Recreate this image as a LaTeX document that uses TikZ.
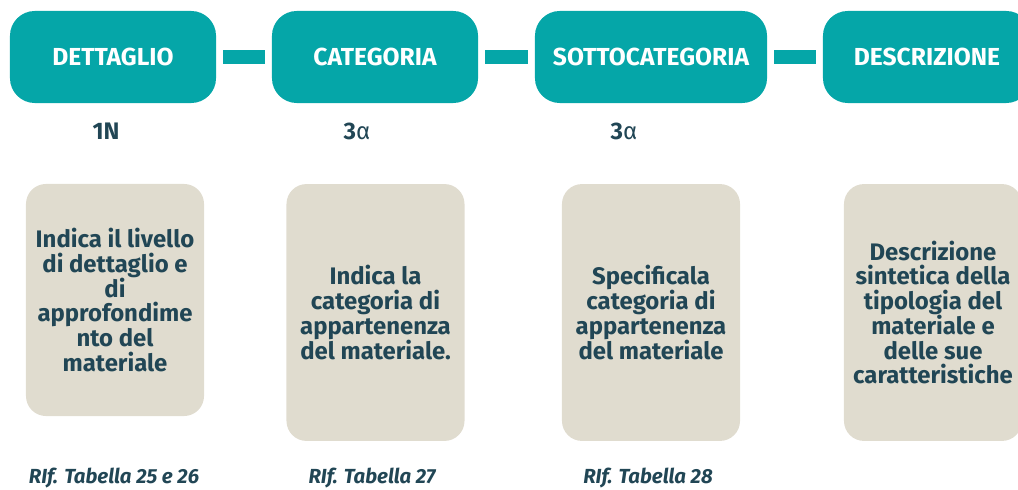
\documentclass[tikz,border=0pt]{standalone}
\usepackage{fontspec}
\setmainfont{Fira Sans}
\usetikzlibrary{positioning}
\definecolor{headteal}{RGB}{5,166,168}
\definecolor{cardbeige}{RGB}{224,220,207}
\definecolor{inkblue}{RGB}{33,70,85}

\begin{document}
\begin{tikzpicture}[x=0.025cm,y=-0.025cm,
    head/.style={fill=headteal,rounded corners=0.62cm,minimum height=2.3cm,
      text=white,font=\bfseries\fontsize{17.5}{20}\selectfont},
    card/.style={fill=cardbeige,rounded corners=0.5cm,minimum width=4.45cm,
      minimum height=6.42cm,inner sep=1pt,align=center,text=inkblue,
      font=\bfseries\fontsize{17}{17.6}\selectfont},
    bar/.style={draw=headteal,line width=0.33cm,shorten <=0.175cm,shorten >=0.175cm},
    code/.style={text=inkblue,font=\fontsize{17}{20}\selectfont},
    ref/.style={text=inkblue,font=\bfseries\itshape\fontsize{14.5}{17}\selectfont}]
  \clip (0,0) rectangle (1018,490);

  % testata
  \node[head,minimum width=5.15cm] (dett) at (113,57) {DETTAGLIO};
  \node[head,minimum width=5.15cm] (cat) at (375,57) {CATEGORIA};
  \node[head,minimum width=5.8cm] (sotto) at (651,57) {SOTTOCATEGORIA};
  \node[head,minimum width=5.2cm] (descr) at (927,57) {DESCRIZIONE};
  \draw[bar] (dett) -- (cat);
  \draw[bar] (cat) -- (sotto);
  \draw[bar] (sotto) -- (descr);

  % codici
  \node[code] (cdett) at (106,131) {\bfseries 1N};
  \node[code] (ccat) at (357,131) {\bfseries 3\mdseries α};
  \node[code] (csotto) at (624,131) {\bfseries 3\mdseries α};

  % schede
  \node[card,minimum height=5.8cm] (tdett) at (115,300)
    {Indica il livello\\di dettaglio e\\di\\approfondime\\nto del\\materiale};
  \node[card] (tcat) at (375.5,312.5)
    {Indica la\\categoria di\\appartenenza\\del materiale.};
  \node[card] (tsotto) at (651,312.5)
    {Specificala\\categoria di\\appartenenza\\del materiale};
  \node[card] (tdescr) at (933,312.5)
    {Descrizione\\sintetica della\\tipologia del\\materiale e\\delle sue\\caratteristiche};

  % riferimenti
  \node[ref] (rdett) at (114,478) {RIf. Tabella 25 e 26};
  \node[ref] (rcat) at (372,478) {RIf. Tabella 27};
  \node[ref] (rsotto) at (648,478) {RIf. Tabella 28};
\end{tikzpicture}
\end{document}
